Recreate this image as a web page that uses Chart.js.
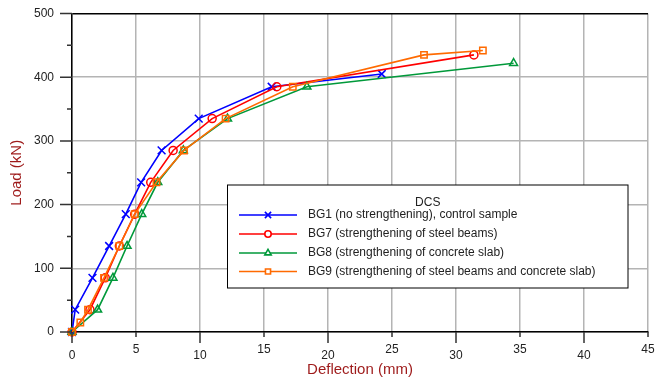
<!DOCTYPE html>
<html lang="en">
<head>
<meta charset="UTF-8">
<title>DCS load - deflection</title>
<script src="https://cdn.jsdelivr.net/npm/chart.js"></script>
<style>
  html, body { margin: 0; padding: 0; background: #fff; }
  #wrap { width: 655px; height: 379px; }
</style>
</head>
<body>
<div id="wrap"><canvas id="myChart" width="655" height="379"></canvas></div>
<script>
// deflection (mm) / load (kN)
const bg1X = [0, 0.25, 1.6, 2.9, 4.2, 5.4, 7.0, 9.9, 15.6, 24.2];
const bg1Y = [0, 35, 85, 135, 185, 235, 285, 335, 385, 405];
const bg7X = [0, 1.4, 2.6, 3.7, 4.9, 6.15, 7.9, 10.95, 16.0, 31.4];
const bg7Y = [0, 35, 85, 135, 185, 235, 285, 335, 385, 435];
const bg8X = [0, 2.0, 3.2, 4.3, 5.45, 6.7, 8.7, 12.15, 18.35, 34.5];
const bg8Y = [0, 35, 85, 135, 185, 235, 285, 335, 385, 422];
const bg9X = [0, 0.65, 1.25, 2.5, 3.7, 4.9, 6.6, 8.75, 12.0, 17.25, 27.5, 32.1];
const bg9Y = [0, 15, 35, 85, 135, 185, 235, 285, 335, 385, 435, 442];

const seriesLabels = [
  'BG1 (no strengthening), control sample',
  'BG7 (strengthening of steel beams)',
  'BG8 (strengthening of concrete slab)',
  'BG9 (strengthening of steel beams and concrete slab)'
];
const legendTitle = 'DCS';

// axis ticks
const xTicks = [0, 5, 10, 15, 20, 25, 30, 35, 40, 45];
const yTicks = [0, 100, 200, 300, 400, 500];
const yMarks = [0, 50, 100, 150, 200, 250, 300, 350, 400, 450, 500];

const FONT = "Arial, 'Liberation Sans', sans-serif";
const GRID = '#b4b4b4';

function pts(xs, ys) {
  return xs.map((x, i) => ({ x: x, y: ys[i] }));
}

function ds(label, xs, ys, color, style, r, order) {
  return {
    label: label,
    data: pts(xs, ys),
    borderColor: color,
    backgroundColor: color,
    borderWidth: 1.6,
    pointStyle: style,
    pointRadius: r,
    pointHoverRadius: r,
    pointBorderWidth: 1.5,
    pointBorderColor: color,
    pointBackgroundColor: 'rgba(255,255,255,0)',
    tension: 0,
    clip: false,
    order: order
  };
}

// no extra room for edge labels, the plot box is fixed
function noPad(s) {
  s.paddingLeft = 0;
  s.paddingRight = 0;
  s.paddingTop = 0;
  s.paddingBottom = 0;
}

// minor / major tick marks outside the plot
const tickMarks = {
  id: 'tickMarks',
  afterDraw(chart) {
    const ctx = chart.ctx, a = chart.chartArea;
    const x = chart.scales.x, y = chart.scales.y;
    ctx.save();
    ctx.strokeStyle = '#333';
    ctx.lineWidth = 1.5;
    ctx.beginPath();
    yMarks.forEach(v => {
      const p = y.getPixelForValue(v);
      const len = v % 100 === 0 ? 12 : 5;
      ctx.moveTo(a.left - len, p);
      ctx.lineTo(a.left, p);
    });
    xTicks.forEach(v => {
      const p = x.getPixelForValue(v);
      const len = v % 10 === 0 ? 11 : 5;
      ctx.moveTo(p, a.bottom);
      ctx.lineTo(p, a.bottom + len);
    });
    ctx.stroke();
    ctx.restore();
  }
};

// boxed legend inside the plot
const boxLegend = {
  id: 'boxLegend',
  afterDatasetsDraw(chart) {
    const ctx = chart.ctx;
    const box = { l: 227.5, t: 185, r: 628, b: 288 };
    ctx.save();
    ctx.fillStyle = '#fff';
    ctx.fillRect(box.l, box.t, box.r - box.l, box.b - box.t);
    ctx.strokeStyle = '#000';
    ctx.lineWidth = 1;
    ctx.strokeRect(box.l, box.t, box.r - box.l, box.b - box.t);

    ctx.font = '12px ' + FONT;
    ctx.textBaseline = 'middle';
    ctx.fillStyle = '#222';
    ctx.textAlign = 'center';
    ctx.fillText(legendTitle, (box.l + box.r) / 2, 203);

    ctx.textAlign = 'left';
    const rows = [215, 234, 253, 271.5];
    chart.data.datasets.forEach((d, i) => {
      const yy = rows[i];
      ctx.strokeStyle = d.borderColor;
      ctx.lineWidth = 1.6;
      ctx.beginPath();
      ctx.moveTo(239, yy);
      ctx.lineTo(297, yy);
      ctx.stroke();
      ctx.fillStyle = '#fff';
      if (Chart.helpers && Chart.helpers.drawPoint) {
        Chart.helpers.drawPoint(ctx, { pointStyle: d.pointStyle, radius: d.pointRadius * 0.8, rotation: 0, borderWidth: 1.5 }, 268, yy);
      }
      ctx.fillStyle = '#222';
      ctx.fillText(d.label, 308, yy);
    });
    ctx.restore();
  }
};

new Chart(document.getElementById('myChart'), {
  type: 'line',
  data: {
    datasets: [
      ds(seriesLabels[0], bg1X, bg1Y, '#0000ff', 'crossRot', 5.5, 3),
      ds(seriesLabels[1], bg7X, bg7Y, '#ff0000', 'circle', 4, 2),
      ds(seriesLabels[2], bg8X, bg8Y, '#00993a', 'triangle', 4.6, 1),
      ds(seriesLabels[3], bg9X, bg9Y, '#ff6a00', 'rect', 4.5, 0)
    ]
  },
  options: {
    responsive: false,
    animation: false,
    events: [],
    layout: { padding: { top: 13.5, right: 6, left: 0, bottom: 0 } },
    plugins: {
      legend: { display: false },
      tooltip: { enabled: false }
    },
    scales: {
      x: {
        type: 'linear',
        min: 0,
        max: 45,
        afterBuildTicks: s => { s.ticks = xTicks.map(v => ({ value: v })); },
        afterFit: s => { s.height = 47; noPad(s); },
        grid: { color: GRID, lineWidth: 1.5, drawTicks: false },
        border: { color: '#000', width: 1.5 },
        ticks: {
          padding: 11.5,
          color: '#222',
          autoSkip: false,
          maxRotation: 0,
          // staggered labels: tens sit a little lower
          font: c => ({ family: FONT, size: 12, lineHeight: (c.tick && c.tick.value % 10 === 0) ? 2 : 1 })
        },
        title: {
          display: true,
          text: 'Deflection (mm)',
          color: '#9e1a1a',
          font: { family: FONT, size: 15 },
          padding: { top: 0, bottom: 0 }
        }
      },
      y: {
        type: 'linear',
        min: 0,
        max: 500,
        afterBuildTicks: s => { s.ticks = yTicks.map(v => ({ value: v })); },
        afterFit: s => { s.width = 72; noPad(s); },
        grid: {
          color: c => (c.tick && c.tick.value === 500) ? '#000' : GRID,
          lineWidth: 1.5,
          drawTicks: false
        },
        border: { color: '#000', width: 1.5 },
        ticks: {
          padding: 18,
          color: '#222',
          font: { family: FONT, size: 12 }
        },
        title: {
          display: true,
          text: 'Load (kN)',
          color: '#9e1a1a',
          font: { family: FONT, size: 15 },
          padding: { top: 8, bottom: 0 }
        }
      }
    }
  },
  plugins: [tickMarks, boxLegend]
});
</script>
</body>
</html>
